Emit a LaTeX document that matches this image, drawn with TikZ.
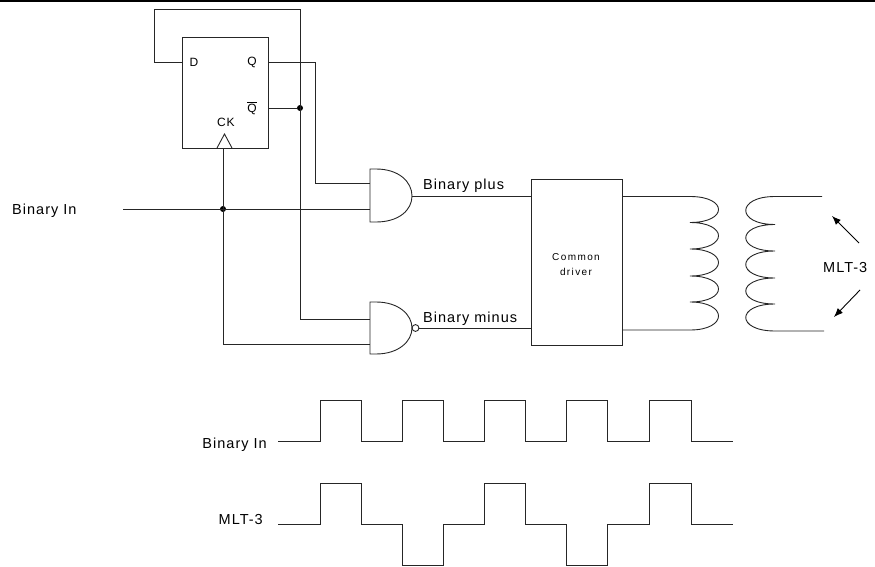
\documentclass[tikz,border=0pt]{standalone}
\usepackage{fontspec}
\setmainfont{Liberation Sans}
\newfontfamily\lblfont[LetterSpace=7]{Liberation Sans}
\newfontfamily\smallfont[LetterSpace=14]{Liberation Sans}
\usetikzlibrary{arrows.meta,calc}
\begin{document}
\begin{tikzpicture}[x=1pt,y=-1pt,
  wire/.style={line width=0.9pt,black!85},
  box/.style={draw,line width=0.9pt,black!85,rectangle,inner sep=0pt,anchor=north west},
  lbl/.style={inner sep=0pt,font=\lblfont\fontsize{14.5}{17}\selectfont},
  pin/.style={inner sep=0pt,font=\lblfont\fontsize{12}{14}\selectfont},
  dot/.style={circle,fill=black,inner sep=0pt,minimum size=6pt},
  arr/.style={line width=0.9pt,-{Latex[length=9pt,width=7pt]}}]
\useasboundingbox (0,0) rectangle (875,567);
\draw[line width=2pt] (0,1) -- (875,1);

% flip-flop
\node[box,minimum width=86pt,minimum height=111pt] (ff) at (182,37) {};
\node[pin] (dl) at (194,62) {D};
\node[pin] (ql) at (252,62) {Q};
\node[pin] (qbl) at (252,108) {$\overline{\mbox{Q}}$};
\node[pin] (ckl) at (226,122) {CK};
\draw[wire] (217,148) -- (224.5,134) -- (232,148);

\coordinate (D) at (182,62);
\coordinate (Q) at (268,62);
\coordinate (QB) at (268,108);
\coordinate (CK) at (223,148);
\node[dot] (j1) at (300,108) {};
\node[dot] (j2) at (223,209) {};
\coordinate (bin) at (123,209);

% gates
\coordinate (a1) at (370,183);
\coordinate (a2) at (370,209);
\coordinate (ao) at (412,196);
\coordinate (n1) at (370,319);
\coordinate (n2) at (370,344);
\coordinate (no) at (419,328);
\draw[wire] (370,169) -- (376,169) .. controls (399,169) and (412,182) .. (412,196)
  .. controls (412,210) and (399,222) .. (376,222) -- (370,222) -- cycle;
\draw[wire] (370,302) -- (376,302) .. controls (399,302) and (412,315) .. (412,328)
  .. controls (412,341) and (399,354) .. (376,354) -- (370,354) -- cycle;
\draw[wire] (415.5,328) circle (3.4pt);

% common driver
\node[box,minimum width=91pt,minimum height=166pt] (drv) at (531,179) {};
\node[font=\smallfont\fontsize{10}{12}\selectfont,anchor=base,inner sep=0pt] (c1) at (576,260.5) {Common};
\node[font=\smallfont\fontsize{10}{12}\selectfont,anchor=base,inner sep=0pt] (c2) at (576,275) {driver};
\coordinate (bp) at (531,196);
\coordinate (bm) at (531,328);
\coordinate (d1) at (622,196.5);
\coordinate (d2) at (622,330);

% wiring
\draw[wire] (D) -- (154,62) -- (154,9) -- (300,9) |- (n1);
\draw[wire] (QB) -- (j1);
\draw[wire] (Q) -- (315,62) |- (a1);
\draw[wire] (bin) -- (a2);
\draw[wire] (CK) |- (n2);
\draw[wire] (ao) -- (bp);
\draw[wire] (no) -- (bm);

% labels
\node[lbl,anchor=base west] (t1) at (12,214) {Binary In};
\node[lbl,anchor=base west] (t2) at (423,189) {Binary plus};
\node[lbl,anchor=base west] (t3) at (423,322) {Binary minus};
\node[lbl,anchor=base west] (t4) at (823,272) {MLT-3};

% primary coil
\draw[wire] (d1) -- (690,196.5)
  .. controls (728,196.5) and (728,222.5) .. (690,222.5)
  .. controls (728,222.5) and (728,249) .. (690,249)
  .. controls (728,249) and (728,276) .. (690,276)
  .. controls (728,276) and (728,302) .. (690,302)
  .. controls (728,302) and (728,330) .. (690,330) -- (d2);
% secondary coil
\coordinate (s1) at (822,196.5);
\coordinate (s2) at (824,331);
\draw[wire] (s1) -- (775,196.5)
  .. controls (736,196.5) and (736,224.5) .. (775,224.5)
  .. controls (736,224.5) and (736,251) .. (775,251)
  .. controls (736,251) and (736,278) .. (775,278)
  .. controls (736,278) and (736,304) .. (775,304)
  .. controls (736,304) and (736,331) .. (775,331) -- (s2);

% arrows
\coordinate (ar1) at (859,243);
\coordinate (ah1) at (832,216);
\coordinate (ar2) at (860,290);
\coordinate (ah2) at (834,317);
\draw[arr] (ar1) -- (ah1);
\draw[arr] (ar2) -- (ah2);

% waveforms
\node[lbl,anchor=base east] (w1) at (267,448) {Binary In};
\node[lbl,anchor=base east] (w2) at (263,524) {MLT-3};
\draw[wire] (278,441) -- (320,441) -- (320,400) -- (361,400) -- (361,441) -- (402,441)
  -- (402,400) -- (443,400) -- (443,441) -- (484,441) -- (484,400) -- (525,400)
  -- (525,441) -- (566,441) -- (566,400) -- (607,400) -- (607,441) -- (649,441)
  -- (649,400) -- (691,400) -- (691,441) -- (733,441);
\draw[wire] (278,524) -- (320,524) -- (320,483) -- (361,483) -- (361,524) -- (402,524)
  -- (402,565) -- (443,565) -- (443,524) -- (484,524) -- (484,483) -- (525,483)
  -- (525,524) -- (566,524) -- (566,565) -- (607,565) -- (607,524) -- (649,524)
  -- (649,483) -- (691,483) -- (691,524) -- (733,524);
\end{tikzpicture}
\end{document}
